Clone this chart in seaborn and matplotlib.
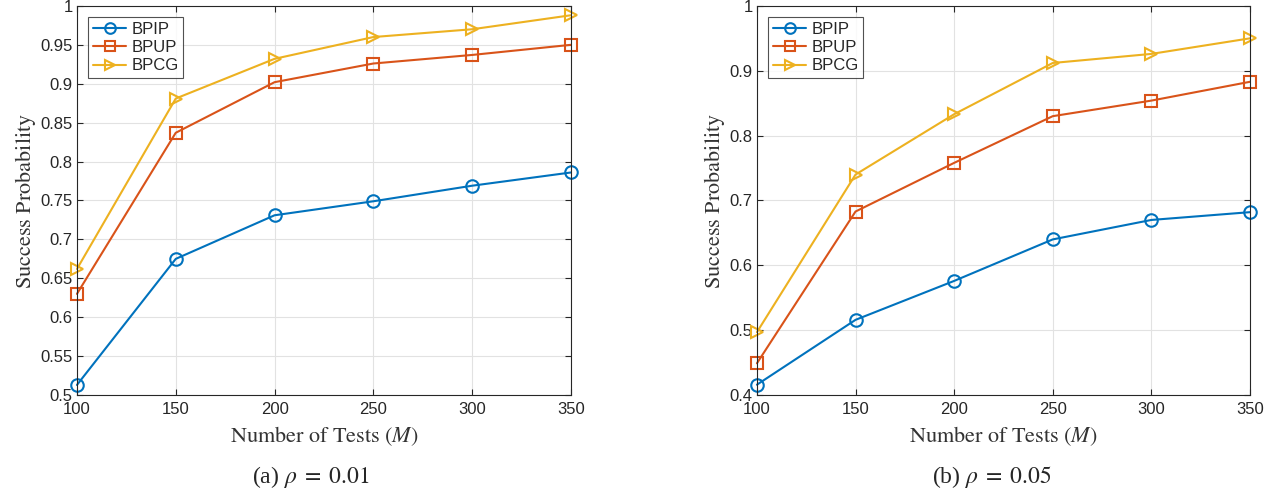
import numpy as np
import pandas as pd
import seaborn as sns
import matplotlib.pyplot as plt

tests = [100, 150, 200, 250, 300, 350]
methods = ['BPIP', 'BPUP', 'BPCG']

# rho = 0.01
bpip_a = [0.513, 0.675, 0.731, 0.749, 0.769, 0.786]
bpup_a = [0.630, 0.837, 0.902, 0.926, 0.937, 0.950]
bpcg_a = [0.662, 0.881, 0.932, 0.960, 0.970, 0.988]

# rho = 0.05
bpip_b = [0.416, 0.516, 0.576, 0.640, 0.670, 0.682]
bpup_b = [0.449, 0.683, 0.758, 0.830, 0.854, 0.883]
bpcg_b = [0.497, 0.740, 0.833, 0.912, 0.926, 0.950]

yticks_a = [0.5, 0.55, 0.6, 0.65, 0.7, 0.75, 0.8, 0.85, 0.9, 0.95, 1]
yticks_b = [0.4, 0.5, 0.6, 0.7, 0.8, 0.9, 1]
captions = [r'(a) $\rho\;=\;0.01$', r'(b) $\rho\;=\;0.05$']

colors = ['#0072BD', '#D95319', '#EDB120']
markers = ['o', 's', '>']


def make_df(a, b, c):
    rows = []
    for name, vals in zip(methods, [a, b, c]):
        for x, y in zip(tests, vals):
            rows.append({'M': x, 'p': y, 'method': name})
    return pd.DataFrame(rows)


sns.set_theme(style='whitegrid')
plt.rcParams['font.family'] = ['Liberation Sans', 'DejaVu Sans']
plt.rcParams['mathtext.fontset'] = 'stix'
plt.rcParams['xtick.direction'] = 'in'
plt.rcParams['ytick.direction'] = 'in'

fig = plt.figure(figsize=(12.76, 4.92), dpi=100)
ax1 = fig.add_axes([0.0603, 0.197, 0.3872, 0.791])
ax2 = fig.add_axes([0.5932, 0.197, 0.3864, 0.791])

dfs = [make_df(bpip_a, bpup_a, bpcg_a), make_df(bpip_b, bpup_b, bpcg_b)]
ylims = [(0.5, 1.0), (0.4, 1.0)]
yts = [yticks_a, yticks_b]
ylabs = [['0.5', '0.55', '0.6', '0.65', '0.7', '0.75', '0.8', '0.85', '0.9', '0.95', '1'],
         ['0.4', '0.5', '0.6', '0.7', '0.8', '0.9', '1']]
cap_x = [0.2437, 0.7774]

for ax, df, yl, yt, ytl, cap, cx in zip([ax1, ax2], dfs, ylims, yts, ylabs, captions, cap_x):
    for i, name in enumerate(methods):
        sub = df[df.method == name]
        sns.lineplot(data=sub, x='M', y='p', ax=ax, color=colors[i],
                     marker=markers[i], markersize=9, markerfacecolor='none',
                     markeredgecolor=colors[i], markeredgewidth=1.5,
                     linewidth=1.5, label=name, clip_on=False)
    ax.set_xlim(100, 350)
    ax.set_ylim(*yl)
    ax.set_xticks(tests)
    ax.set_yticks(yt)
    ax.set_yticklabels(ytl)
    ax.tick_params(labelsize=12, colors='#262626', length=4, width=0.8,
                   top=True, right=True, bottom=True, left=True)
    ax.tick_params(axis='x', pad=5)
    ax.tick_params(axis='y', pad=3)
    ax.grid(True, color='#e2e2e2', linewidth=0.8)
    for s in ax.spines.values():
        s.set_color('#262626')
        s.set_linewidth(0.8)
    ax.set_xlabel(r'$\mathrm{Number\ of\ Tests\ }(M)$', fontsize=16, color='#333333', labelpad=5)
    ax.set_ylabel(r'$\mathrm{Success\ Probability}$', fontsize=16, color='#333333', labelpad=2)
    leg = ax.legend(loc='upper left', bbox_to_anchor=(0.012, 0.985), fontsize=12,
                    frameon=True, fancybox=False, edgecolor='#262626',
                    handlelength=2.0, handletextpad=0.3, borderpad=0.3,
                    labelspacing=0.2, borderaxespad=0.3, markerscale=0.85)
    leg.get_frame().set_linewidth(0.8)
    fig.text(cx, 0.030, cap, ha='center', va='center',
             fontsize=17, family=['Liberation Serif', 'DejaVu Serif'])

fig.savefig('out.png', dpi=100)
